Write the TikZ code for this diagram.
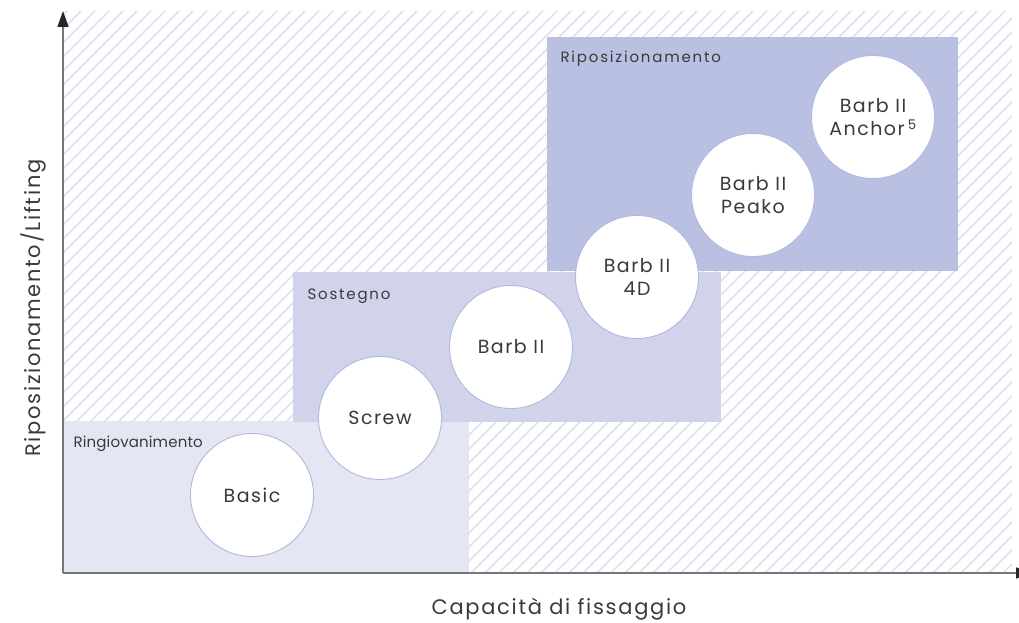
\documentclass[tikz,border=0pt]{standalone}
\usetikzlibrary{arrows.meta}
\usepackage{fontspec}
\setmainfont{Poppins}[LetterSpace=8]
\newfontfamily\narrowfont{Poppins}[LetterSpace=1]
\newfontfamily\wideletter{Poppins}[LetterSpace=12]
\begin{document}
\begin{tikzpicture}[x=1pt,y=-1pt,
  prod/.style={circle,draw=circ,line width=0.9pt,fill=white,minimum size=123pt,inner sep=0pt,align=center,font=\fontsize{19}{23.5}\selectfont,text=txt},
  zlabel/.style={anchor=west,font=\wideletter\fontsize{15}{17}\selectfont,text=txt},
  axis/.style={draw=axc,line width=1.6pt,-{Triangle[length=16pt,width=11pt,color=black!85]}},
  alabel/.style={font=\fontsize{21}{25}\selectfont,text=txt}]
\useasboundingbox (0,0) rectangle (1019,623);
\definecolor{hatch}{HTML}{E3E5F3}
\definecolor{zA}{HTML}{E4E6F3}
\definecolor{zB}{HTML}{D0D3EA}
\definecolor{zC}{HTML}{B9C0E1}
\definecolor{circ}{HTML}{B0B8E0}
\definecolor{txt}{HTML}{3A3A3A}
\definecolor{axc}{HTML}{777777}
% hatch
\begin{scope}
\clip (63,11) rectangle (1012,573);
\foreach \i in {-600,-586,...,1000}
  \draw[hatch,line width=1.8pt] (63+\i,573) -- (63+\i+562,11);
\end{scope}
% zones
\fill[zA] (63,421) rectangle (469,573);
\fill[zB] (293,272) rectangle (721,422);
\fill[zC] (547,37) rectangle (958,271);
\node[zlabel,font=\narrowfont\fontsize{15}{17}\selectfont] (lA) at (70,444) {Ringiovanimento};
\node[zlabel] (lB) at (304,296) {Sostegno};
\node[zlabel] (lC) at (557,59) {Riposizionamento};
% axes
\coordinate (o) at (63,573);
\coordinate (ytip) at (63,11);
\coordinate (xtip) at (1032,573);
\draw[axis] (o) -- (ytip);
\draw[axis] (o) -- (xtip);
\node[alabel,rotate=90] (ylab) at (33,308) {Riposizionamento/Lifting};
\node[alabel] (xlab) at (559,609) {Capacità di fissaggio};
% products
\node[prod] (basic) at (252,495) {Basic};
\node[prod] (screw) at (380,418) {Screw};
\node[prod] (barb) at (511,347) {Barb II};
\node[prod] (barb4d) at (637,277) {Barb II\\4D};
\node[prod] (peako) at (753,195) {Barb II\\Peako};
\node[prod] (anchor) at (873,117) {Barb II\\Anchor\,\textsuperscript{5}};
\end{tikzpicture}
\end{document}
